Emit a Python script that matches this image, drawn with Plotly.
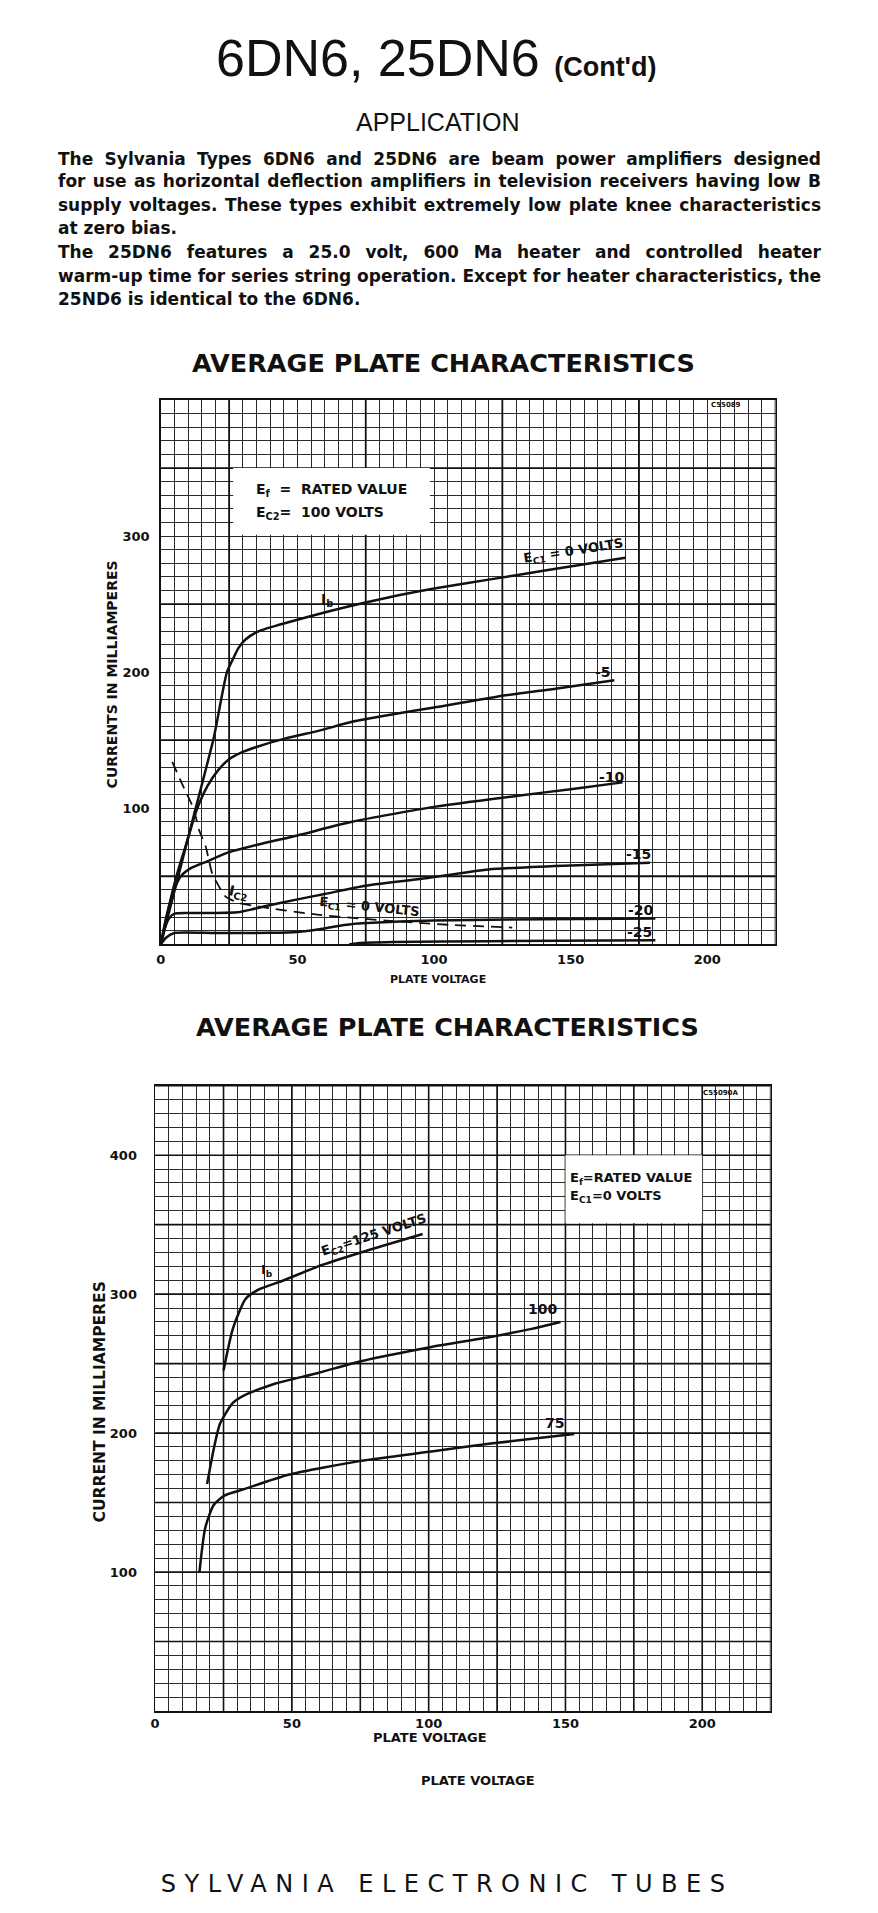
import plotly.graph_objects as go

# ---------------- data: chart 1 (Ec2 = 100 V) ----------------
v_ec0 = [0, 4.2, 12, 19.4, 24.2, 26.5, 28.5, 31, 35.7, 42, 50, 62, 74.5, 87, 100, 120, 140, 163.7, 170]
i_ec0 = [0, 33, 94, 152, 200, 210, 218, 224, 230, 234, 238.5, 245, 251, 256.5, 261.5, 268, 274.5, 282, 284]
v_m5 = [0, 3, 6, 9.5, 13, 17, 21, 25, 29, 35, 46, 58, 70, 85, 100, 123, 145, 166]
i_m5 = [0, 28, 52, 75, 98, 116, 128, 136, 140.5, 145, 151.5, 157, 163.5, 169, 174, 182, 188, 194]
v_m10 = [0, 2, 4.5, 7.3, 11, 17, 24, 35, 50, 70, 100, 130, 150, 169]
i_m10 = [0, 20, 38, 50, 56, 61, 67, 73, 80, 90, 101, 109, 114, 119]
v_m15 = [0, 1.5, 3, 5, 10, 20, 28, 33, 38, 50, 60, 75, 95, 120, 150, 179]
i_m15 = [0, 12, 19, 22.5, 23, 23, 23.5, 25.5, 28, 33, 37, 43, 48, 55, 58, 60]
v_m20 = [0, 2, 5, 20, 40, 50, 58, 65, 72, 85, 100, 140, 181]
i_m20 = [0, 5, 8.3, 8.3, 8.4, 9, 11, 13.5, 15.3, 16.5, 17.5, 18.5, 19]
v_m25 = [69, 72, 85, 120, 181]
i_m25 = [0, 0.8, 1.6, 2.3, 3]
v_ic2 = [4.2, 8, 12.1, 14, 16.4, 18.8, 20.6, 23.7, 25.5, 29.1, 35, 40, 58, 82.5, 106.7, 128.6]
i_ic2 = [134, 117, 99, 84, 72, 52, 45, 35, 33, 30, 28, 26.5, 21.6, 17.4, 14.2, 12.3]

x1_ticks = [0, 50, 100, 150, 200]
y1_ticks = [100, 200, 300]

# ---------------- data: chart 2 (Ec1 = 0 V) ----------------
v_125 = [25, 28.4, 33.1, 37.8, 47.1, 59.6, 75.2, 97.8]
i_125 = [245, 275, 296.7, 303.3, 310, 320, 330, 343.3]
v_100 = [19, 21.4, 23.7, 28.4, 33.1, 44, 59.6, 75.2, 101, 122, 137.6, 148.2]
i_100 = [163.3, 188.3, 206.7, 221.7, 227.7, 235.7, 243.3, 251.7, 262, 269, 275, 280]
v_75 = [16.2, 18.3, 21.4, 25.3, 33.1, 48.7, 75.2, 101, 122, 153.2]
i_75 = [100, 131.7, 148.3, 155, 160, 170, 180, 186.7, 192.3, 199.3]

x2_ticks = [0, 50, 100, 150, 200]
y2_ticks = [100, 200, 300, 400]

x1_range = [0, 225]
y1_range = [0, 400]
x2_range = [0, 225]
y2_range = [0, 450]

W, H = 878, 1913
INK = "#111111"
GRID = "#2a2a2a"
FONT = "DejaVu Sans"


def px(x):
    return x / W


def py(y):
    return 1 - y / H


fig = go.Figure()

curve = dict(color=INK, width=2.5, shape="spline", smoothing=0.6)
for vx, iy in [(v_ec0, i_ec0), (v_m5, i_m5), (v_m10, i_m10), (v_m15, i_m15), (v_m20, i_m20), (v_m25, i_m25)]:
    fig.add_trace(go.Scatter(x=vx, y=iy, mode="lines", line=curve, xaxis="x", yaxis="y",
                             hoverinfo="skip", showlegend=False))
fig.add_trace(go.Scatter(x=v_ic2, y=i_ic2, mode="lines", xaxis="x", yaxis="y",
                         line=dict(color=INK, width=1.8, dash="11px,7px", shape="spline", smoothing=0.6),
                         hoverinfo="skip", showlegend=False))
for vx, iy in [(v_125, i_125), (v_100, i_100), (v_75, i_75)]:
    fig.add_trace(go.Scatter(x=vx, y=iy, mode="lines", line=curve, xaxis="x2", yaxis="y2",
                             hoverinfo="skip", showlegend=False))

tickfont = dict(family=FONT, size=13, color=INK, weight="bold")


def axis(domain, rng, tickvals, minor_dtick, **kw):
    d = dict(domain=domain, range=rng, tickmode="array", tickvals=tickvals,
             showgrid=True, gridcolor=GRID, gridwidth=1,
             minor=dict(tickmode="linear", tick0=0, dtick=minor_dtick, showgrid=True,
                        gridcolor=GRID, gridwidth=1, ticks=""),
             showline=True, mirror=True, linecolor=INK, linewidth=1.6,
             ticks="", zeroline=False, tickfont=tickfont, fixedrange=True)
    d.update(kw)
    return d


fig.update_layout(
    width=W, height=H,
    margin=dict(l=0, r=0, t=0, b=0),
    paper_bgcolor="white", plot_bgcolor="white",
    xaxis=axis([px(156.7), px(775)], x1_range, x1_ticks, 5, anchor="y", ticklabelstandoff=2),
    yaxis=axis([py(944.3), py(400)], y1_range, y1_ticks, 10, anchor="x", ticklabelstandoff=7),
    xaxis2=axis([px(151), px(770)], x2_range, x2_ticks, 5, anchor="y2", ticklabelstandoff=0),
    yaxis2=axis([py(1711), py(1085.7)], y2_range, y2_ticks, 10, anchor="x2", ticklabelstandoff=14),
)

# heavier graph-paper lines and white label boxes (drawn between grid and curves)
shapes = []


def heavy(xr, yr, xrng, yrng, xs, ys, w):
    for v in xs:
        shapes.append(dict(type="line", xref=xr, yref=yr, x0=v, x1=v, y0=yrng[0], y1=yrng[1],
                           line=dict(color=INK, width=w), layer="between"))
    for i in ys:
        shapes.append(dict(type="line", xref=xr, yref=yr, x0=xrng[0], x1=xrng[1], y0=i, y1=i,
                           line=dict(color=INK, width=w), layer="between"))


heavy("x", "y", x1_range, y1_range, range(25, 226, 50), range(50, 401, 100), 1.8)
heavy("x2", "y2", x2_range, y2_range, range(25, 226, 25), range(50, 451, 50), 1.6)
shapes.append(dict(type="rect", xref="x", yref="y", x0=26.5, x1=98.5, y0=301, y1=350,
                   fillcolor="white", line=dict(width=0), layer="between"))
shapes.append(dict(type="rect", xref="x2", yref="y2", x0=150, x1=200, y0=351, y1=400,
                   fillcolor="white", line=dict(width=0), layer="between"))
fig.update_layout(shapes=shapes)

ann = []


def text_px(x, y, t, size, bold=False, family=FONT, xanchor="center", angle=0, align="center"):
    ann.append(dict(x=px(x), y=py(y), xref="paper", yref="paper", text=t, showarrow=False,
                    xanchor=xanchor, yanchor="middle", textangle=angle, align=align,
                    font=dict(family=family, size=size, color=INK,
                              weight="bold" if bold else "normal")))


def text_data(xr, yr, x, y, t, size=14, bold=True, xanchor="center", angle=0):
    ann.append(dict(x=x, y=y, xref=xr, yref=yr, text=t, showarrow=False,
                    xanchor=xanchor, yanchor="middle", textangle=angle,
                    font=dict(family=FONT, size=size, color=INK,
                              weight="bold" if bold else "normal")))


# header
text_px(434, 58, "6DN6, 25DN6 <span style='font-size:27px'><b>(Cont'd)</b></span>", 52,
        family="Liberation Sans")
text_px(435, 122, "APPLICATION", 25, family="Liberation Sans")
para = [
    "The Sylvania Types 6DN6 and 25DN6 are beam power amplifiers designed",
    "for use as horizontal deflection amplifiers in television receivers having low B",
    "supply voltages. These types exhibit extremely low plate knee characteristics",
    "at zero bias.",
    "The 25DN6 features a 25.0 volt, 600 Ma heater and controlled heater",
    "warm-up time for series string operation. Except for heater characteristics, the",
    "25ND6 is identical to the 6DN6.",
]
para_y = [159, 181, 205, 228, 252, 276, 299]
for t, yy in zip(para, para_y):
    text_px(51, yy, t, 17, bold=True, family=FONT, xanchor="left", align="left")

# chart titles
text_px(441, 363, "AVERAGE PLATE CHARACTERISTICS", 25.5, bold=True)
text_px(445, 1027, "AVERAGE PLATE CHARACTERISTICS", 25.5, bold=True)

# axis titles
text_px(108, 674, "CURRENTS IN MILLIAMPERES", 14, bold=True, angle=-90)
text_px(435, 979, "PLATE VOLTAGE", 11, bold=True)
text_px(96, 1402, "CURRENT IN MILLIAMPERES", 15.5, bold=True, angle=-90)
text_px(427, 1737, "PLATE VOLTAGE", 13, bold=True)
text_px(476, 1780, "PLATE VOLTAGE", 13, bold=True)

# footer
text_px(445, 1884, "SYLVANIA ELECTRONIC TUBES", 24, family="DejaVu Sans")

# chart 1 labels
text_data("x", "y", 34, 334, "E<sub>f</sub>  =  RATED VALUE", 14, xanchor="left")
text_data("x", "y", 34, 317, "E<sub>C2</sub>=  100 VOLTS", 14, xanchor="left")
text_data("x", "y", 61, 253, "I<sub>b</sub>", 14)
text_data("x", "y", 151, 289, "E<sub>C1</sub> = 0 VOLTS", 13, angle=-9)
text_data("x", "y", 162, 200, "-5", 14)
text_data("x", "y", 165, 123, "-10", 14)
text_data("x", "y", 174.7, 66, "-15", 14)
text_data("x", "y", 175.9, 25.5, "-20", 14)
text_data("x", "y", 175.3, 9, "-25", 14)
text_data("x", "y", 28.5, 38, "I<sub>C2</sub>", 14, angle=12)
text_data("x", "y", 76.4, 27, "E<sub>C1</sub> = 0 VOLTS", 13, angle=6)
text_data("x", "y", 207, 396, "C55089", 7)

# chart 2 labels
text_data("x2", "y2", 151, 383, "E<sub>f</sub>=RATED VALUE", 13, xanchor="left")
text_data("x2", "y2", 151, 370, "E<sub>C1</sub>=0 VOLTS", 13, xanchor="left")
text_data("x2", "y2", 41, 317, "I<sub>b</sub>", 13)
text_data("x2", "y2", 80, 342.5, "E<sub>C2</sub>=125 VOLTS", 13, angle=-18)
text_data("x2", "y2", 141.5, 289, "100", 14)
text_data("x2", "y2", 146, 207, "75", 14)
text_data("x2", "y2", 206.8, 444.5, "C55090A", 7)

fig.update_layout(annotations=ann)

# page tweaks: no body margin, justified paragraph lines, spaced footer lettering
post_js = """
document.body.style.margin = '0';
(function(){
  var justify = %s;
  function adjust(){
    document.querySelectorAll('text.annotation-text').forEach(function(t){
      var s = t.textContent.replace(/\\u00a0/g, ' ');
      if (s.indexOf('SYLVANIA') === 0) { t.style.letterSpacing = '8.5px'; }
      if (justify.indexOf(s) >= 0) {
        t.style.wordSpacing = '0px';
        var len = t.getComputedTextLength();
        var n = (s.match(/ /g) || []).length;
        if (n > 0 && len < 763) { t.style.wordSpacing = ((763 - len) / n) + 'px'; }
      }
    });
  }
  adjust();
  setTimeout(adjust, 50);
  setTimeout(adjust, 300);
})();
""" % str([para[i] for i in (0, 1, 2, 4, 5)]).replace("'", '"')

fig.write_html("out.html", post_script=post_js, config={"displayModeBar": False, "staticPlot": True})
